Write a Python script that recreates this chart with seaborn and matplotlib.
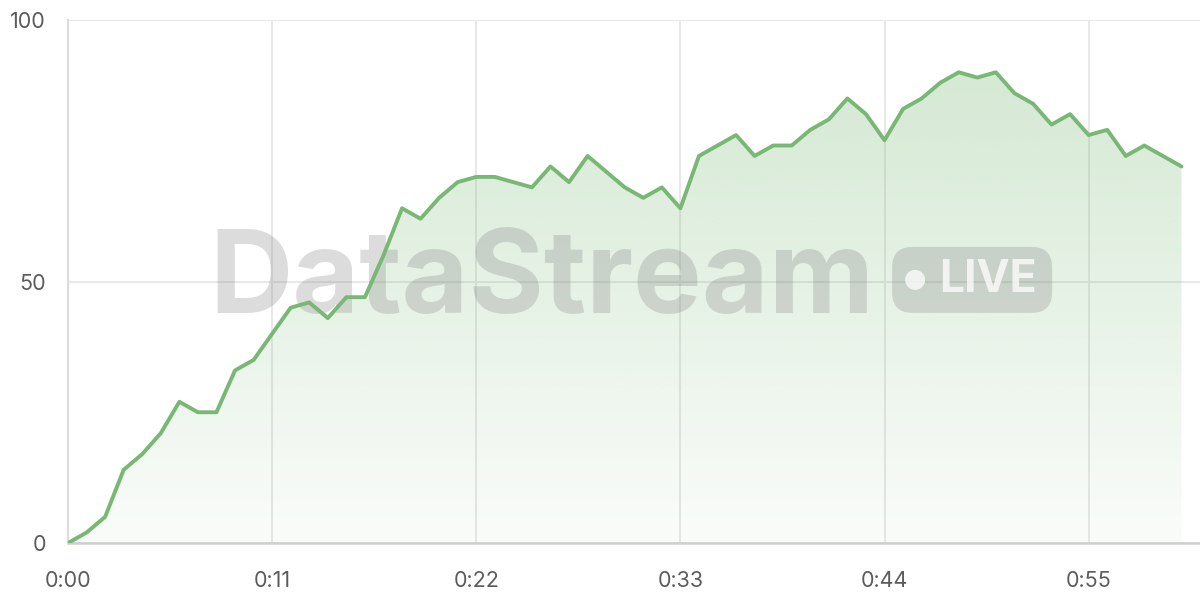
import numpy as np
import matplotlib
matplotlib.use("Agg")
import matplotlib.pyplot as plt
import seaborn as sns
from matplotlib.patches import FancyBboxPatch, Ellipse
from matplotlib.ticker import FuncFormatter

sns.set_theme(style="white")
plt.rcParams['font.family'] = ['Inter', 'DejaVu Sans']

# seconds since start and the streamed value
seconds = list(range(61))
values = [0, 2, 5, 14, 17, 21, 27, 25, 25, 33,
          35, 40, 45, 46, 43, 47, 47, 55, 64, 62,
          66, 69, 70, 70, 69, 68, 72, 69, 74, 71,
          68, 66, 68, 64, 74, 76, 78, 74, 76, 76,
          79, 81, 85, 82, 77, 83, 85, 88, 90, 89,
          90, 86, 84, 80, 82, 78, 79, 74, 76, 74,
          72]
xticks = [0, 11, 22, 33, 44, 55]
yticks = [0, 50, 100]

line_color = '#78b874'
grid_color = '#e8e8e8'

fig = plt.figure(figsize=(12, 6), dpi=100)
ax = fig.add_axes([68 / 1200, 57 / 600, 1132 / 1200, 523 / 600])

# gradient fill under the line
poly = ax.fill_between(seconds, values, 0, color='none', lw=0)
grad = np.zeros((256, 1, 4))
grad[:, 0, :3] = matplotlib.colors.to_rgb(line_color)
grad[:, 0, 3] = np.linspace(0.34, 0.04, 256)
img = ax.imshow(grad, aspect='auto', extent=[0, 60, 0, 100], origin='upper', zorder=1)
img.set_clip_path(poly.get_paths()[0], transform=ax.transData)

sns.lineplot(x=seconds, y=values, color=line_color, linewidth=2.8, ax=ax, zorder=4)

ax.set_xlim(0, 61)
ax.set_ylim(0, 100)
ax.set_xticks(xticks)
ax.set_yticks(yticks)
ax.xaxis.set_major_formatter(FuncFormatter(lambda v, p: f"{int(v) // 60}:{int(v) % 60:02d}"))
ax.set_xlabel('')
ax.set_ylabel('')

ax.grid(True, color=grid_color, linewidth=1.4, zorder=0)
ax.set_axisbelow(True)
ax.tick_params(axis='both', length=11, width=1.4, color=grid_color,
               labelcolor='#5c5c5c', labelsize=15.5)
ax.tick_params(axis='y', pad=5)
ax.tick_params(axis='x', pad=9)
for s in ['top', 'right']:
    ax.spines[s].set_visible(False)
ax.spines['left'].set_color('#dcdcdc')
ax.spines['left'].set_linewidth(1.6)
ax.spines['bottom'].set_color('#cfcfcf')
ax.spines['bottom'].set_linewidth(1.8)

# watermark
wm = (0.5, 0.5, 0.5, 0.27)
ax.text(0.125, 0.44, 'DataStream', transform=ax.transAxes, fontsize=83,
        fontweight='bold', color=wm, ha='left', va='baseline', zorder=3)
bw, bh = 160 / 1132, 66 / 523
badge = FancyBboxPatch((0.728, 0.44), bw, bh,
                       boxstyle='round,pad=0,rounding_size=0.018',
                       mutation_aspect=1132 / 523, transform=ax.transAxes,
                       fc=wm, ec='none', zorder=3)
ax.add_patch(badge)
ax.add_patch(Ellipse((0.728 + 23 / 1132, 0.44 + bh / 2), 20 / 1132, 20 / 523,
                     transform=ax.transAxes, fc=(1, 1, 1, 0.75), ec='none', zorder=3))
ax.text(0.728 + 47 / 1132, 0.44 + bh / 2, 'LIVE', transform=ax.transAxes,
        fontsize=32, fontweight='bold', color=(1, 1, 1, 0.75),
        ha='left', va='center', zorder=3)

fig.savefig('out.png', dpi=100)
